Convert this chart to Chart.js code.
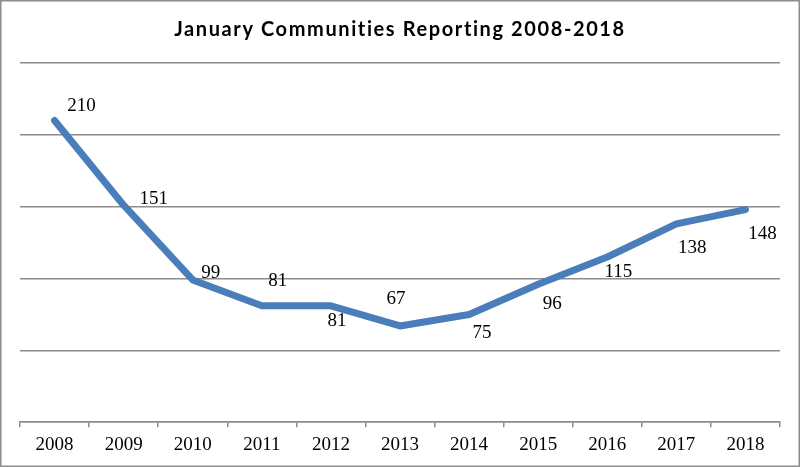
<!DOCTYPE html>
<html>
<head>
<meta charset="utf-8">
<script src="https://cdn.jsdelivr.net/npm/chart.js@4"></script>
<style>
  html, body { margin: 0; padding: 0; background: #fff; }
  #wrap { width: 800px; height: 467px; }
</style>
</head>
<body>
<div id="wrap"><canvas id="lineChart"></canvas></div>
<script>
// data
var years = ['2008', '2009', '2010', '2011', '2012', '2013', '2014', '2015', '2016', '2017', '2018'];
var communities = [210, 151, 99, 81, 81, 67, 75, 96, 115, 138, 148];
var yTicks = [0, 50, 100, 150, 200, 250];
var chartTitle = 'January Communities Reporting 2008-2018';

// where each value label sits relative to its point (px)
var labelDx = [27, 30, 18, 16, 6, -4, 13, 14, 11, 16, 17];
var labelDy = [-14, -6, -7, -25, 15, -27, 19, 20, 15, 24, 24];

var frame = {
	id: 'frame',
	beforeDraw: function (chart) {
		var c = chart.ctx;
		c.save();
		c.fillStyle = '#fff';
		c.fillRect(0, 0, chart.width, chart.height);
		c.strokeStyle = '#8c8c8c';
		c.lineWidth = 1.5;
		c.strokeRect(0.75, 0.75, chart.width - 1.5, chart.height - 1.5);
		// title, spaced out like the original
		c.font = 'bold 20px Lato';
		c.letterSpacing = '1.6px';
		c.fillStyle = '#000';
		c.textAlign = 'center';
		c.textBaseline = 'middle';
		c.fillText(chartTitle, chart.width / 2, 30);
		c.restore();
	}
};

var valueLabels = {
	id: 'valueLabels',
	afterDatasetsDraw: function (chart) {
		var c = chart.ctx;
		var meta = chart.getDatasetMeta(0);
		c.save();
		c.font = '19px "Liberation Serif"';
		c.fillStyle = '#000';
		c.textAlign = 'center';
		c.textBaseline = 'middle';
		meta.data.forEach(function (pt, i) {
			c.fillText(String(communities[i]), pt.x + labelDx[i], pt.y + labelDy[i]);
		});
		c.restore();
	}
};

var ctx = document.getElementById('lineChart');
var lineChart = new Chart(ctx, {
	type: 'line',
	data: {
		labels: years,
		datasets: [{
			label: 'Communities',
			data: communities,
			borderColor: '#4a7ebb',
			borderWidth: 7,
			borderCapStyle: 'round',
			borderJoinStyle: 'round',
			pointRadius: 0,
			pointHoverRadius: 0,
			tension: 0,
			fill: false
		}]
	},
	options: {
		responsive: true,
		maintainAspectRatio: false,
		animation: false,
		layout: { padding: { left: 20, right: 20, top: 63, bottom: 5 } },
		plugins: {
			legend: { display: false },
			tooltip: { enabled: false },
			title: { display: false }
		},
		scales: {
			x: {
				offset: true,
				grid: {
					offset: true,
					drawOnChartArea: false,
					drawTicks: true,
					tickLength: 5,
					color: '#8c8c8c',
					lineWidth: 1.5
				},
				border: { display: true, color: '#8c8c8c', width: 1.5 },
				ticks: {
					color: '#000',
					padding: 6,
					font: { family: 'Liberation Serif', size: 19 },
					maxRotation: 0
				}
			},
			y: {
				min: yTicks[0],
				max: yTicks[yTicks.length - 1],
				afterBuildTicks: function (axis) {
					axis.ticks = yTicks.map(function (v) { return { value: v }; });
				},
				grid: {
					drawTicks: false,
					color: '#8c8c8c',
					lineWidth: 1.5
				},
				border: { display: false },
				ticks: { display: false }
			}
		}
	},
	plugins: [frame, valueLabels]
});
</script>
</body>
</html>
